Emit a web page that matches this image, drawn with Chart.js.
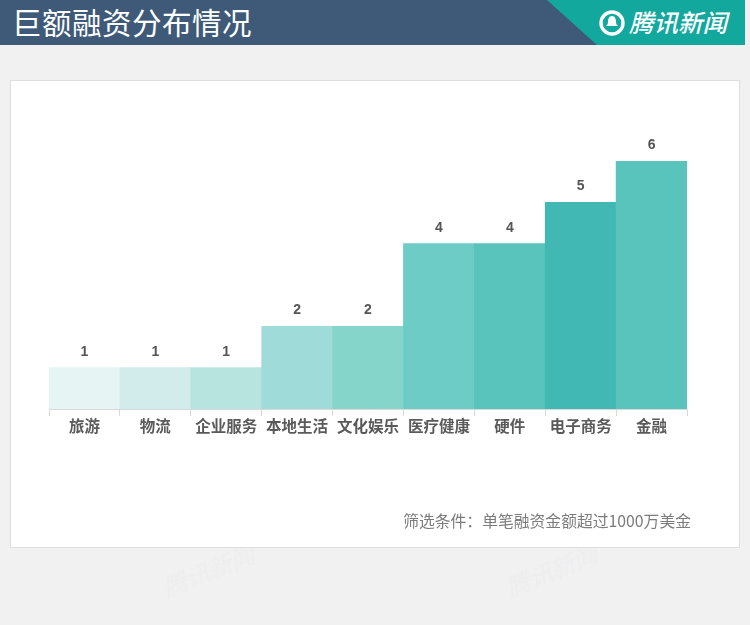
<!DOCTYPE html>
<html>
<head>
<meta charset="utf-8">
<title>巨额融资分布情况</title>
<script src="https://cdn.jsdelivr.net/npm/chart.js@4/dist/chart.umd.min.js"></script>
<style>
    html, body { margin: 0; padding: 0; background: #f1f1f2; }
    #page { position: relative; width: 750px; height: 625px; overflow: hidden; font-family: "Noto Sans CJK SC", sans-serif; }
    #header { position: absolute; left: 0; top: 0; width: 745px; height: 45px; background: #3e5a78; }
    #title { position: absolute; left: 12px; top: -1px; line-height: 45px; font-size: 29.5px; font-weight: 400; letter-spacing: 0.5px; color: #fff; white-space: nowrap; }
    #tag { position: absolute; left: 547px; top: 0; width: 198px; height: 45px; background: #13a89e; clip-path: polygon(0 0, 100% 0, 100% 100%, 50px 100%); }
    #logo { position: absolute; left: 629px; top: -1px; line-height: 45px; font-size: 24.5px; font-style: italic; font-weight: 500; color: #fff; white-space: nowrap; }
    #icon { position: absolute; left: 599px; top: 10px; width: 26px; height: 26px; }
    #card { position: absolute; left: 10px; top: 80px; width: 728px; height: 466px; background: #fff; border: 1px solid #dedede; }
    #note { position: absolute; right: 59px; top: 509px; line-height: 24px; font-size: 15.8px; font-weight: 400; color: #7c7c7c; white-space: nowrap; }
    .mark { position: absolute; top: 552px; font-size: 24px; font-style: italic; color: #eeeeef; transform: rotate(-22deg); white-space: nowrap; }
    canvas { position: absolute; left: 0; top: 0; }
</style>
</head>
<body>
<div id="page">
    <div class="mark" style="left:160px">腾讯新闻</div>
    <div class="mark" style="left:503px">腾讯新闻</div>
    <div id="card"></div>
    <canvas id="chart" width="750" height="625"></canvas>
    <div id="header"></div>
    <div id="tag"></div>
    <div id="title">巨额融资分布情况</div>
    <svg id="icon" viewBox="0 0 26 26">
        <circle cx="13" cy="13" r="11" fill="none" stroke="#fff" stroke-width="3.4"/>
        <path d="M13 6c3 0 4 3 4 6 0 2 1 3 2 4H7c1-1 2-2 2-4 0-3 1-6 4-6z" fill="#fff"/>
    </svg>
    <div id="logo">腾讯新闻</div>
    <div id="note">筛选条件：单笔融资金额超过1000万美金</div>
</div>
<script>
// Chart data
const categories = ['旅游', '物流', '企业服务', '本地生活', '文化娱乐', '医疗健康', '硬件', '电子商务', '金融'];
const dealCounts = [1, 1, 1, 2, 2, 4, 4, 5, 6];
const barColors = ['#e6f4f3', '#d1ecea', '#b8e4df', '#9fdbd9', '#86d5ca', '#6dccc5', '#58c4bc', '#41b8b3', '#58c4bc'];

// Draws the count above each bar
const valueLabels = {
    id: 'valueLabels',
    afterDatasetsDraw(chart) {
        const ctx = chart.ctx;
        ctx.save();
        ctx.font = 'bold 14px "Liberation Sans"';
        ctx.fillStyle = '#555';
        ctx.textAlign = 'center';
        ctx.textBaseline = 'middle';
        chart.getDatasetMeta(0).data.forEach((bar, i) => {
            ctx.fillText(dealCounts[i], bar.x, bar.y - 16);
        });
        ctx.restore();
    }
};

new Chart(document.getElementById('chart').getContext('2d'), {
    type: 'bar',
    data: {
        labels: categories,
        datasets: [{
            data: dealCounts,
            backgroundColor: barColors,
            borderWidth: 0,
            barPercentage: 1,
            categoryPercentage: 1
        }]
    },
    options: {
        responsive: false,
        animation: false,
        layout: { padding: { left: 49, right: 63, top: 161, bottom: 176 } },
        plugins: {
            legend: { display: false },
            tooltip: { enabled: false }
        },
        scales: {
            x: {
                afterFit: (scale) => { scale.height = 40; },
                border: { color: '#d9d9d9' },
                grid: { offset: true, drawOnChartArea: false, color: '#d9d9d9', tickLength: 7 },
                ticks: {
                    maxRotation: 0,
                    autoSkip: false,
                    padding: 1,
                    color: '#5a5a5a',
                    font: { family: '"Noto Sans CJK SC"', size: 15.5, weight: '700' }
                }
            },
            y: { display: false, min: 0, max: 6 }
        }
    },
    plugins: [valueLabels]
});
</script>
</body>
</html>
